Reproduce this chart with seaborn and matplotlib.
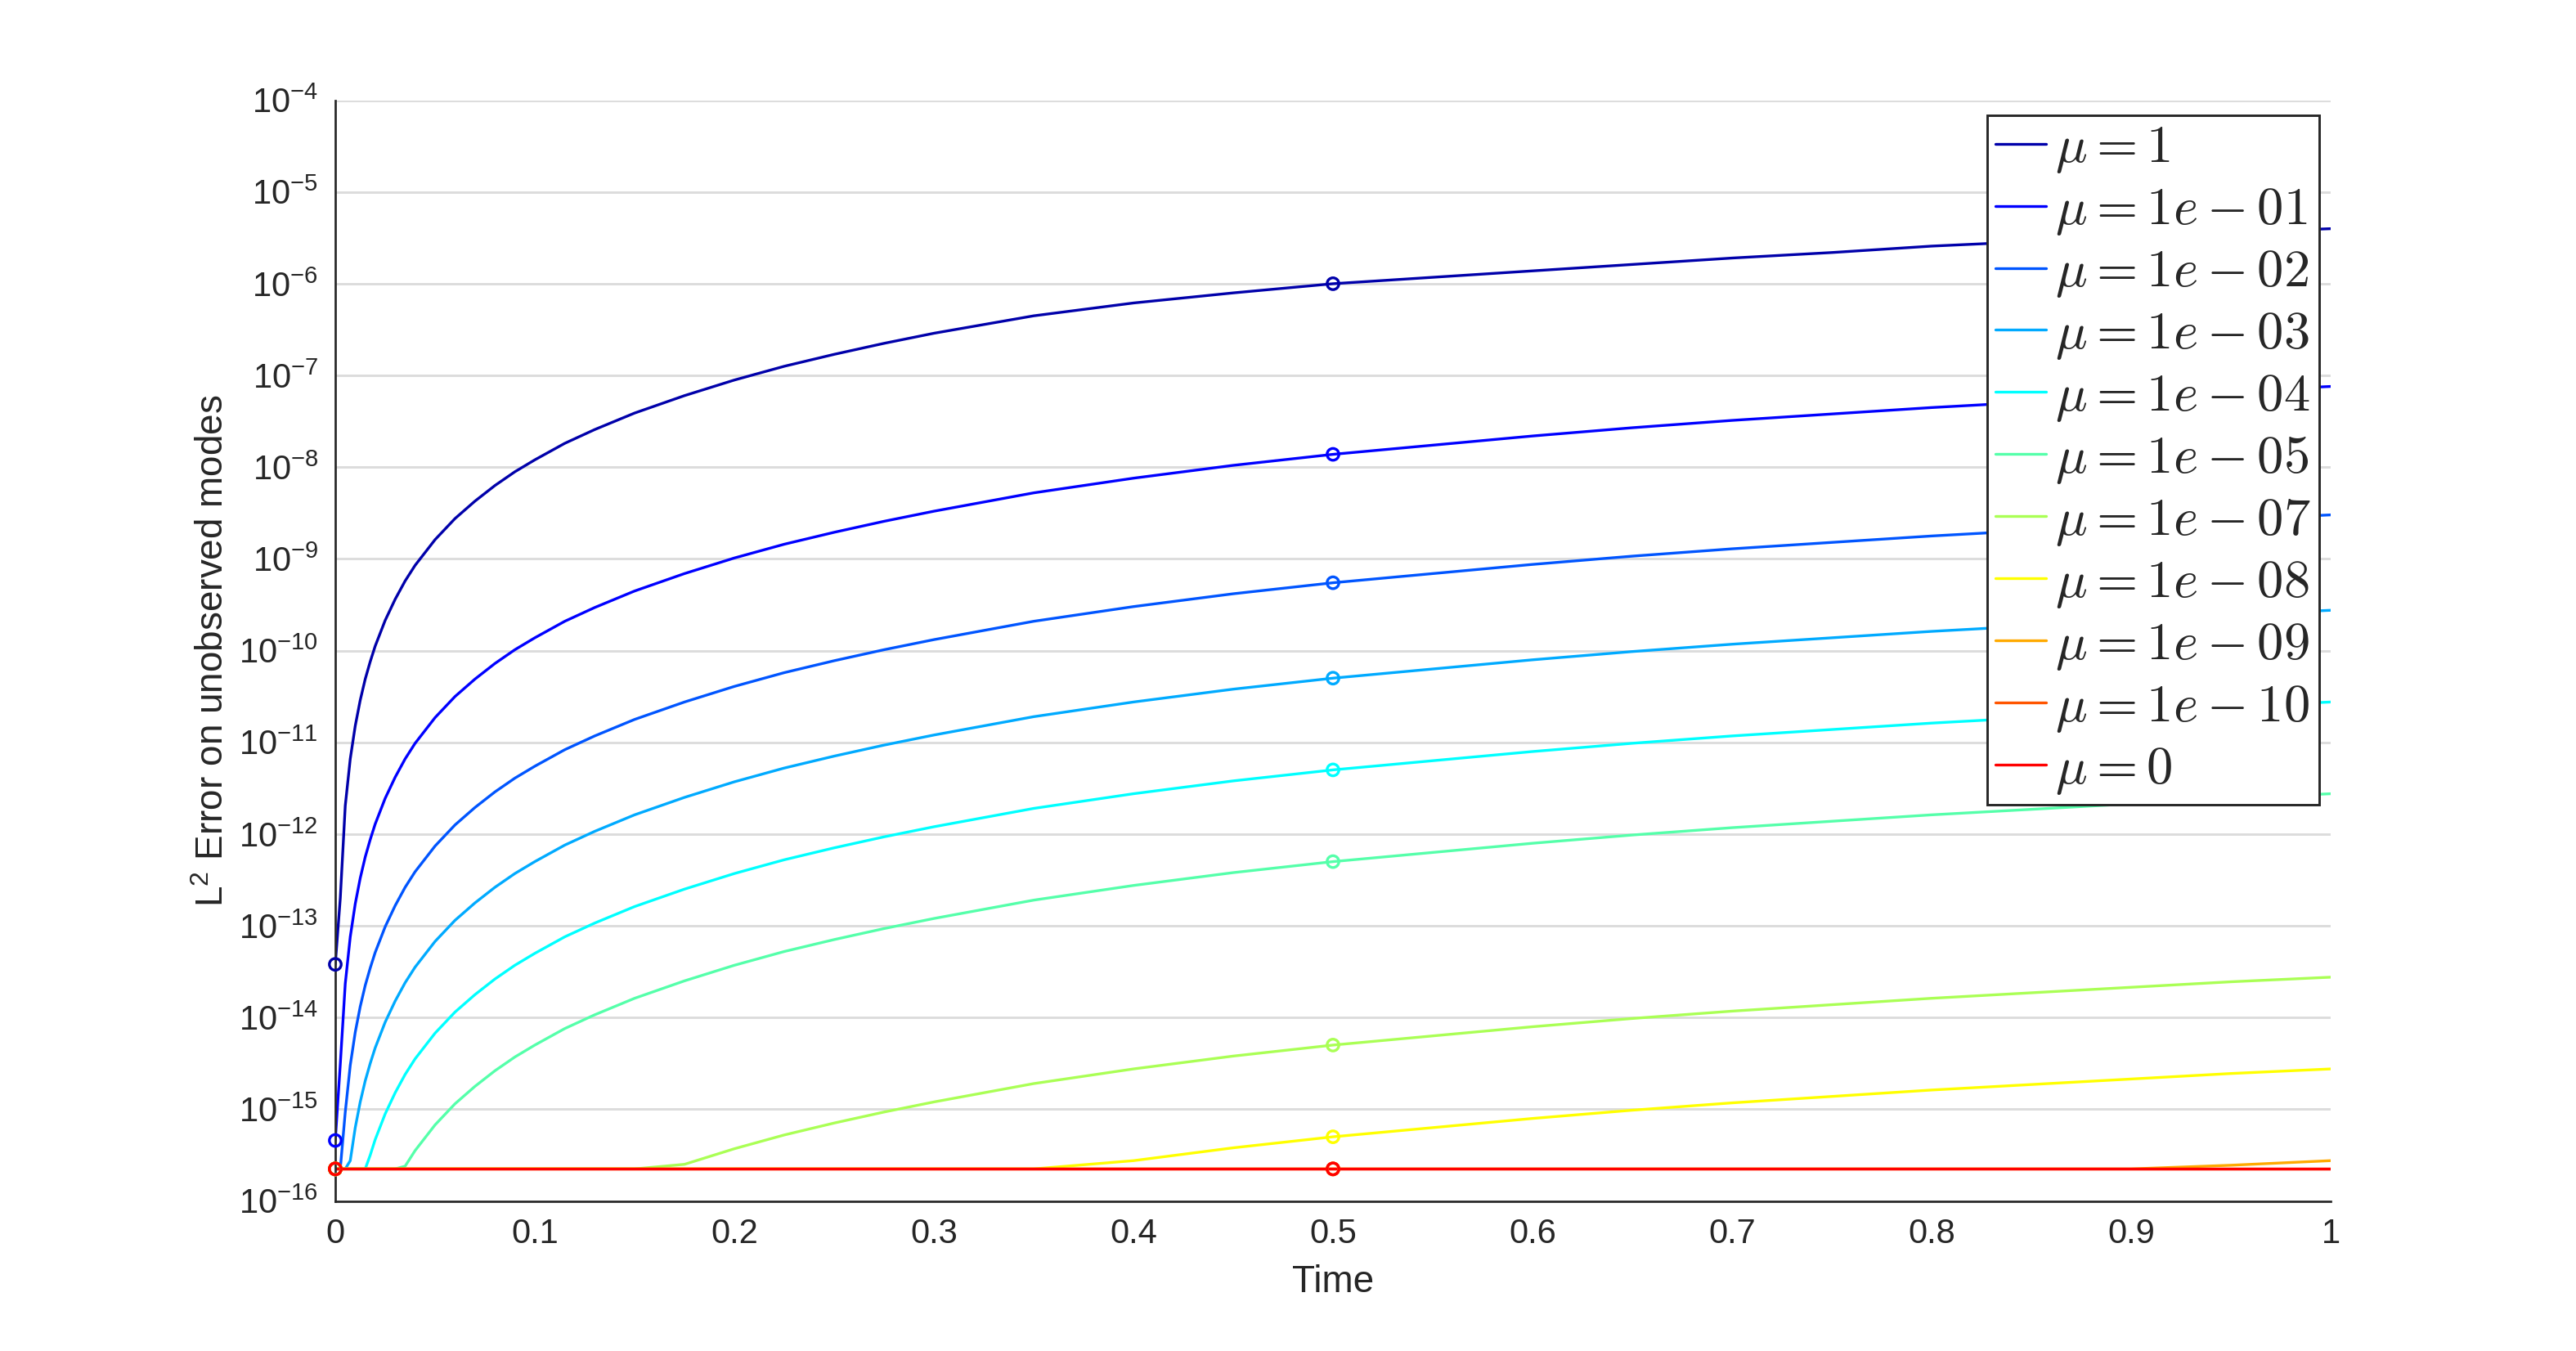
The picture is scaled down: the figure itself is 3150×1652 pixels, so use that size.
import numpy as np
import pandas as pd
import seaborn as sns
import matplotlib
matplotlib.use("Agg")
import matplotlib.pyplot as plt
from matplotlib.font_manager import FontProperties
from matplotlib.ticker import FixedLocator, FixedFormatter, NullLocator

# ---------------------------------------------------------------
# Data (log10 of the L2 error), one list per mu
# ---------------------------------------------------------------
FLOOR = -15.65  # machine-precision floor seen on the plot

TIME = [0.0, 0.0025, 0.005, 0.0075, 0.01, 0.0125, 0.015, 0.0175, 0.02, 0.025,
        0.03, 0.035, 0.04, 0.045, 0.05, 0.06, 0.07, 0.08, 0.09, 0.1,
        0.115, 0.13, 0.15, 0.175, 0.2, 0.225, 0.25, 0.275, 0.3, 0.35,
        0.4, 0.45, 0.5, 0.55, 0.6, 0.65, 0.7, 0.75, 0.8, 0.85,
        0.9, 0.95, 1.0]

LOG_MU_1 = [-13.42, -12.70, -11.69, -11.18, -10.82, -10.54, -10.31, -10.12, -9.95, -9.67,
            -9.44, -9.24, -9.07, -8.93, -8.79, -8.56, -8.37, -8.20, -8.05, -7.92,
            -7.74, -7.59, -7.41, -7.22, -7.05, -6.90, -6.77, -6.65, -6.54, -6.35,
            -6.21, -6.10, -6.00, -5.93, -5.86, -5.79, -5.72, -5.66, -5.59, -5.54,
            -5.49, -5.44, -5.40]
LOG_MU_1E1 = [-15.34, -14.51, -13.63, -13.12, -12.76, -12.48, -12.25, -12.06, -11.89, -11.61,
              -11.38, -11.18, -11.01, -10.87, -10.73, -10.50, -10.31, -10.14, -9.99, -9.86,
              -9.68, -9.53, -9.35, -9.16, -8.99, -8.84, -8.71, -8.59, -8.48, -8.28,
              -8.12, -7.98, -7.86, -7.76, -7.66, -7.57, -7.49, -7.42, -7.35, -7.29,
              -7.23, -7.17, -7.12]
LOG_MU_1E2 = [FLOOR, FLOOR, -15.03, -14.52, -14.16, -13.88, -13.65, -13.46, -13.29, -13.01,
              -12.78, -12.58, -12.41, -12.27, -12.13, -11.90, -11.71, -11.54, -11.39, -11.26,
              -11.08, -10.93, -10.75, -10.56, -10.39, -10.24, -10.11, -9.99, -9.88, -9.68,
              -9.52, -9.38, -9.26, -9.16, -9.06, -8.97, -8.89, -8.82, -8.75, -8.69,
              -8.63, -8.57, -8.52]
LOG_MU_1E3 = [FLOOR, FLOOR, FLOOR, -15.56, -15.20, -14.92, -14.69, -14.50, -14.33, -14.05,
              -13.82, -13.62, -13.45, -13.31, -13.17, -12.94, -12.75, -12.58, -12.43, -12.30,
              -12.12, -11.97, -11.79, -11.60, -11.43, -11.28, -11.15, -11.03, -10.92, -10.72,
              -10.56, -10.42, -10.30, -10.20, -10.10, -10.01, -9.93, -9.86, -9.79, -9.73,
              -9.67, -9.61, -9.56]
LOG_MU_1E4 = [FLOOR, FLOOR, FLOOR, FLOOR, FLOOR, FLOOR, FLOOR, -15.50, -15.33, -15.05,
              -14.82, -14.62, -14.45, -14.31, -14.17, -13.94, -13.75, -13.58, -13.43, -13.30,
              -13.12, -12.97, -12.79, -12.60, -12.43, -12.28, -12.15, -12.03, -11.92, -11.72,
              -11.56, -11.42, -11.30, -11.20, -11.10, -11.01, -10.93, -10.86, -10.79, -10.73,
              -10.67, -10.61, -10.56]
LOG_MU_1E5 = [FLOOR, FLOOR, FLOOR, FLOOR, FLOOR, FLOOR, FLOOR, FLOOR, FLOOR, FLOOR,
              FLOOR, -15.62, -15.45, -15.31, -15.17, -14.94, -14.75, -14.58, -14.43, -14.30,
              -14.12, -13.97, -13.79, -13.60, -13.43, -13.28, -13.15, -13.03, -12.92, -12.72,
              -12.56, -12.42, -12.30, -12.20, -12.10, -12.01, -11.93, -11.86, -11.79, -11.73,
              -11.67, -11.61, -11.56]
LOG_MU_1E7 = [FLOOR, FLOOR, FLOOR, FLOOR, FLOOR, FLOOR, FLOOR, FLOOR, FLOOR, FLOOR,
              FLOOR, FLOOR, FLOOR, FLOOR, FLOOR, FLOOR, FLOOR, FLOOR, FLOOR, FLOOR,
              FLOOR, FLOOR, FLOOR, -15.60, -15.43, -15.28, -15.15, -15.03, -14.92, -14.72,
              -14.56, -14.42, -14.30, -14.20, -14.10, -14.01, -13.93, -13.86, -13.79, -13.73,
              -13.67, -13.61, -13.56]
LOG_MU_1E8 = [FLOOR, FLOOR, FLOOR, FLOOR, FLOOR, FLOOR, FLOOR, FLOOR, FLOOR, FLOOR,
              FLOOR, FLOOR, FLOOR, FLOOR, FLOOR, FLOOR, FLOOR, FLOOR, FLOOR, FLOOR,
              FLOOR, FLOOR, FLOOR, FLOOR, FLOOR, FLOOR, FLOOR, FLOOR, FLOOR, FLOOR,
              -15.56, -15.42, -15.30, -15.20, -15.10, -15.01, -14.93, -14.86, -14.79, -14.73,
              -14.67, -14.61, -14.56]
LOG_MU_1E9 = [FLOOR] * 41 + [-15.61, -15.56]
LOG_MU_1E10 = [FLOOR] * 43
LOG_MU_0 = [FLOOR] * 43

LABELS = [r"$\mu = 1$", r"$\mu = 1e-01$", r"$\mu = 1e-02$", r"$\mu = 1e-03$",
          r"$\mu = 1e-04$", r"$\mu = 1e-05$", r"$\mu = 1e-07$", r"$\mu = 1e-08$",
          r"$\mu = 1e-09$", r"$\mu = 1e-10$", r"$\mu = 0$"]
SERIES = [LOG_MU_1, LOG_MU_1E1, LOG_MU_1E2, LOG_MU_1E3, LOG_MU_1E4, LOG_MU_1E5,
          LOG_MU_1E7, LOG_MU_1E8, LOG_MU_1E9, LOG_MU_1E10, LOG_MU_0]

# jet(12) colours, first eleven used
COLORS = ["#0000AA", "#0000FF", "#0055FF", "#00AAFF", "#00FFFF", "#55FFAA",
          "#AAFF55", "#FFFF00", "#FFAA00", "#FF5500", "#FF0000"]

MARKER_TIMES = [0.0, 0.5]
XTICKS = [0, 0.1, 0.2, 0.3, 0.4, 0.5, 0.6, 0.7, 0.8, 0.9, 1]
XTICKLABELS = ["0", "0.1", "0.2", "0.3", "0.4", "0.5", "0.6", "0.7", "0.8", "0.9", "1"]
YEXP = list(range(-16, -3))

for s in SERIES:
    assert len(s) == len(TIME)

# ---------------------------------------------------------------
# long-form table
# ---------------------------------------------------------------
rows = []
for lab, vals in zip(LABELS, SERIES):
    for t, v in zip(TIME, vals):
        rows.append((t, 10.0 ** v, lab))
df = pd.DataFrame(rows, columns=["t", "err", "mu"])

# ---------------------------------------------------------------
# style
# ---------------------------------------------------------------
sns.set_style("white")
plt.rcParams["font.family"] = ["Liberation Sans", "DejaVu Sans"]
plt.rcParams["mathtext.fontset"] = "custom"
plt.rcParams["mathtext.rm"] = "Liberation Sans"
plt.rcParams["mathtext.it"] = "Liberation Sans:italic"
axcol = (0.15, 0.15, 0.15)

fig = plt.figure(figsize=(10.5, 1652 / 300), dpi=300)
ax = fig.add_axes([410 / 3150, 1 - 1468.6 / 1652, 2440 / 3150, (1468.6 - 122.6) / 1652])
ax.set_yscale("log")

sns.lineplot(data=df, x="t", y="err", hue="mu", hue_order=LABELS, palette=COLORS,
             estimator=None, sort=False, lw=0.8, legend=False, ax=ax)
line_handles = list(ax.lines)

mk = df[df["t"].isin(MARKER_TIMES)]
sns.scatterplot(data=mk, x="t", y="err", hue="mu", hue_order=LABELS, palette=COLORS,
                marker="o", s=12, linewidth=0.8, legend=False, ax=ax, zorder=3)
pts = ax.collections[-1]
pts.set_edgecolors(pts.get_facecolors())
pts.set_facecolors("none")
pts.set_clip_on(False)

# axes
ax.set_xlim(0, 1)
ax.set_ylim(1e-16, 1e-4)
ax.xaxis.set_major_locator(FixedLocator(XTICKS))
ax.xaxis.set_major_formatter(FixedFormatter(XTICKLABELS))
ax.yaxis.set_major_locator(FixedLocator([10.0 ** e for e in YEXP]))
ax.yaxis.set_major_formatter(FixedFormatter([r"$\mathregular{10^{%d}}$" % e for e in YEXP]))
ax.yaxis.set_minor_locator(NullLocator())
ax.xaxis.set_minor_locator(NullLocator())

for side in ["top", "right"]:
    ax.spines[side].set_visible(False)
for side in ["left", "bottom"]:
    ax.spines[side].set_linewidth(0.65)
    ax.spines[side].set_color(axcol)

ax.tick_params(axis="both", which="major", direction="in", length=6.2, width=0.65,
               color=axcol, labelcolor=axcol, labelsize=10, pad=5)
ax.yaxis.grid(True, color="#dcdcdc", lw=0.7)
ax.xaxis.grid(False)
ax.set_axisbelow(True)

ax.set_xlabel("Time", fontsize=11, color=axcol, labelpad=4)
ax.set_ylabel(r"L$^2$ Error on unobserved modes", fontsize=11, color=axcol, labelpad=2.2)

leg = ax.legend(line_handles, LABELS, loc="upper right",
                bbox_to_anchor=(2836 / 3150, 1 - 141 / 1652), bbox_transform=fig.transFigure,
                prop=FontProperties(size=15.5, math_fontfamily="cm"),
                frameon=True, fancybox=False, framealpha=1, edgecolor=axcol,
                handlelength=0.95, handletextpad=0.18, labelspacing=0.2,
                borderpad=0.16, borderaxespad=0)
leg.get_frame().set_linewidth(0.7)

fig.savefig("out.png", dpi=300, facecolor="white")
